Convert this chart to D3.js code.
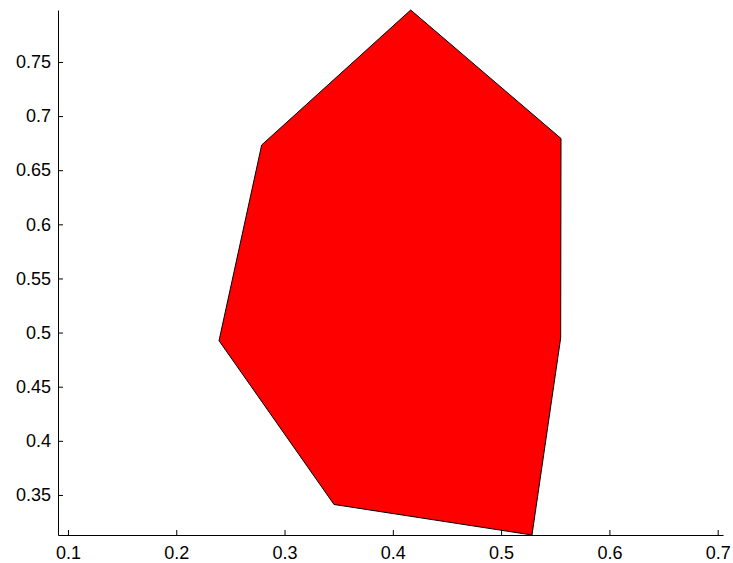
<!DOCTYPE html>
<html>
<head>
<meta charset="utf-8">
<script src="https://cdn.jsdelivr.net/npm/d3@7"></script>
<style>
  body { margin: 0; background: #fff; }
  svg { display: block; }
  .tick text { font-family: Arial, "Liberation Sans", sans-serif; font-size: 18px; fill: #000; }
</style>
</head>
<body>
<svg id="chart" width="733" height="563"></svg>
<script>
// polygon vertices
const xs = [0.4165, 0.5553, 0.5550, 0.5285, 0.3457, 0.2395, 0.2789];
const ys = [0.7980, 0.6793, 0.4950, 0.3130, 0.3412, 0.4925, 0.6733];

const xTicks = [0.1, 0.2, 0.3, 0.4, 0.5, 0.6, 0.7];
const yTicks = [0.35, 0.4, 0.45, 0.5, 0.55, 0.6, 0.65, 0.7, 0.75];

const svg = d3.select('#chart');

// scales (equal aspect, as in the original)
const x = d3.scaleLinear().domain([0.0908, 0.7049]).range([58, 723]);
const y = d3.scaleLinear().domain([0.3130, 0.7980]).range([535, 10]);

// filled patch
const pts = xs.map((v, i) => [x(v), y(ys[i])]);
svg.append('path')
  .attr('d', d3.line()(pts) + 'Z')
  .attr('fill', '#ff0000')
  .attr('stroke', '#000')
  .attr('stroke-width', 1);

// x axis, ticks pointing inward
const xAxis = svg.append('g')
  .attr('transform', 'translate(0,535)')
  .call(d3.axisBottom(x).tickValues(xTicks).tickSize(-5).tickSizeOuter(0)
    .tickFormat(d3.format('')));
xAxis.selectAll('.tick text').attr('y', 11).attr('dy', '0.71em');

// y axis
const yAxis = svg.append('g')
  .attr('transform', 'translate(58,0)')
  .call(d3.axisLeft(y).tickValues(yTicks).tickSize(-5).tickSizeOuter(0)
    .tickFormat(d3.format('')));
yAxis.selectAll('.tick text').attr('x', -7);

svg.selectAll('.domain').attr('stroke', '#000');
svg.selectAll('.tick line').attr('stroke', '#000');
</script>
</body>
</html>
